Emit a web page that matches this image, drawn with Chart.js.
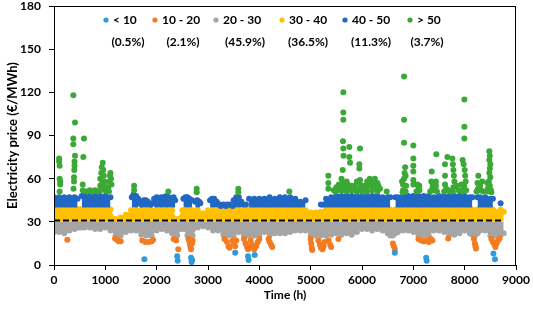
<!DOCTYPE html>
<html>
<head>
<meta charset="utf-8">
<script src="https://cdn.jsdelivr.net/npm/chart.js@4.4.1/dist/chart.umd.min.js"></script>
<style>
  html, body { margin: 0; padding: 0; background: #fff; }
  #wrap { position: relative; width: 533px; height: 314px; }
</style>
</head>
<body>
<div id="wrap"><canvas id="priceChart" width="533" height="314"></canvas></div>
<script>
// price classes and their share of the year
const categories = ['< 10', '10 - 20', '20 - 30', '30 - 40', '40 - 50', '> 50'];
const shares = [0.5, 2.1, 45.9, 36.5, 11.3, 3.7];
const colors = ['#2F9BDB', '#F47B20', '#A5A5A5', '#FFC000', '#2167C4', '#3AA935'];
const xTicks = [0, 1000, 2000, 3000, 4000, 5000, 6000, 7000, 8000, 9000];
const yTicks = [0, 30, 60, 90, 120, 150, 180];
const avgPrice = 31;

// dense bands: hour, lowest 20-30 price, highest 30-40 price, highest 40-50 price
const hours = [0, 100, 200, 300, 400, 460, 500, 540, 600, 700, 800, 900, 1000, 1100, 1200, 1300, 1400, 1500, 1600, 1700,
  1800, 1900, 2000, 2100, 2200, 2300, 2400, 2500, 2600, 2700, 2800, 2900, 3000, 3100, 3200, 3300, 3400, 3500, 3600, 3700,
  3750, 3800, 3900, 4000, 4100, 4200, 4300, 4400, 4500, 4600, 4700, 4800, 4900, 5000, 5100, 5200, 5300, 5400, 5500, 5600,
  5700, 5800, 5900, 6000, 6100, 6200, 6300, 6400, 6500, 6550, 6600, 6650, 6700, 6800, 6900, 7000, 7100, 7200, 7300, 7400,
  7500, 7600, 7700, 7800, 7900, 8000, 8100, 8150, 8200, 8250, 8300, 8400, 8500, 8550, 8600, 8700, 8760];
const grayLow = [23, 23, 22, 24, 25, 26, 26, 26, 26, 26, 25, 25, 26, 24, 20.5, 20.5, 23, 24, 24, 21,
  20.5, 20.5, 24, 25, 24, 22, 20.5, 25, 20.5, 20.5, 26, 27, 26, 24, 24, 21, 20.5, 20.5, 23, 20.5,
  20.5, 20.5, 20.5, 20.5, 23, 20.5, 22, 22, 22, 23, 24, 24, 24, 20.5, 20.5, 20.5, 20.5, 21, 22, 21,
  22, 21, 23, 25, 25, 24, 25, 24, 22, 20.5, 20.5, 22, 23, 24, 24, 23, 20.5, 20.5, 20.5, 24,
  24, 23, 21, 21, 22, 24, 22, 21, 20.5, 22, 24, 24, 20.5, 20.5, 20.5, 21, 22];
const yellowHigh = [38.5, 38.5, 38.5, 38.5, 38.5, 38.5, 39, 38.5, 38.5, 38.5, 38.5, 38.5, 38.5, 38.5, 32, 33, 35, 38, 38, 38,
  38, 38, 38, 38, 38, 38, 32, 38, 38, 38, 38, 36, 38, 38, 38, 38, 38, 38, 38, 38,
  36, 38.5, 38.5, 38.5, 38.5, 38.5, 38.5, 38.5, 38.5, 38.5, 38.5, 38.5, 38, 36.5, 36.5, 37, 38.5, 38.5, 38.5, 38.5,
  38.5, 38.5, 38.5, 38.5, 38.5, 38.5, 38.5, 38.5, 38.5, 38.5, 37, 38.5, 38.5, 38.5, 38.5, 38.5, 38.5, 38.5, 38.5, 38.5,
  38.5, 38.5, 38.5, 38.5, 38.5, 38.5, 38.5, 38.5, 37, 38.5, 38.5, 38.5, 38.5, 38.5, 37, 38.5, 37];
const blueHigh = [47, 47, 47, 47, 47, 46, null, 48, 48, 48, 48, 48, 48, 47, null, null, null, null, null, null,
  null, null, null, null, null, null, null, null, null, null, null, null, null, null, null, null, null, null, null, null,
  null, 46, 46, 46, 46, 47, 46, 47, 47, 47, 46, 44, 45, null, null, 42, 46, 47, 48, 48,
  48, 48, 48, 48, 48, 48, 48, 47, 47, 47, null, 47, 47, 48, 48, 48, 48, 48, 48, 47,
  48, 48, 48, 48, 48, 48, 47, 47, null, 47, 47, 47, 46, 46, null, 43, null];
// separate 40-50 clumps between 1500 h and 3750 h, null = white gap
const blueClumps = [[1515, 47], [1550, 49], [1600, 48], [1640, 46], [1655, null],
  [1670, 43], [1700, 42], [1730, 44], [1750, 45], [1790, 45], [1830, 44], [1840, null],
  [1850, 42], [1890, 42], [1920, 43], [1935, null],
  [1950, 46], [2000, 47], [2050, 46], [2090, 47], [2120, 46], [2140, 47], [2190, 48], [2240, 47], [2290, 46], [2330, 47],
  [2360, 45], [2440, null],
  [2520, 46], [2560, 47], [2600, 47], [2640, 46], [2690, 45], [2720, null],
  [2750, 44], [2790, 45], [2830, 44], [2850, 43], [2950, null],
  [3040, 45], [3080, 46], [3120, 46], [3170, 44], [3180, null],
  [3190, 42], [3230, 42], [3240, null],
  [3250, 41], [3300, 42], [3350, 41], [3360, null],
  [3370, 42], [3420, 42], [3480, 41], [3490, null],
  [3500, 45], [3550, 47], [3600, 47], [3650, 44], [3660, null],
  [3670, 42], [3740, 42]];

// sparse hours, [hour, price]
const under10 = [[1760, 4], [2400, 6], [2410, 3], [2670, 5], [2680, 2], [2690, 3.5], [3530, 8.5], [3780, 6], [3790, 3.5],
  [3910, 7], [6640, 8.5], [7250, 5], [7260, 3], [8560, 8], [8590, 4]];
const from10to20 = [[260, 17.5], [1190, 18.5], [1230, 17.5], [1260, 16.5], [1300, 16.5], [1720, 17], [1780, 16], [1850, 16],
  [1900, 16.5], [1930, 17.5], [2330, 18], [2380, 17], [2420, 11], [2620, 18], [2640, 16], [2650, 14], [2660, 12.5],
  [2670, 11], [2690, 15], [2700, 17], [3320, 18], [3370, 16], [3400, 13], [3420, 12], [3480, 17], [3500, 15], [3530, 13],
  [3550, 17], [3700, 18], [3730, 15], [3760, 12.5], [3780, 11], [3800, 13], [3830, 17], [3860, 14], [3880, 12], [3900, 11],
  [3940, 13], [3970, 16], [4000, 18], [4180, 18], [4200, 16], [4230, 14], [4250, 12.5], [5000, 18], [5010, 15], [5020, 12],
  [5030, 10.5], [5150, 17], [5180, 14], [5200, 12], [5230, 11], [5250, 13], [5270, 16], [5350, 17], [5380, 14], [5400, 12.5],
  [5540, 18], [6600, 15], [6620, 13], [6640, 11], [7100, 18], [7150, 17], [7200, 16.5], [7260, 17], [7300, 16], [7340, 18],
  [7370, 17], [7680, 18.5], [8180, 18], [8200, 15], [8210, 13], [8220, 11.5], [8520, 18], [8550, 16], [8580, 14], [8600, 12.5],
  [8620, 15], [8650, 17], [8680, 18.5]];
const over50 = [[100, 74], [100, 72], [110, 69], [110, 60], [120, 58], [120, 56], [110, 51],
  [376, 118], [409, 99], [376, 88], [376, 84], [409, 76], [400, 72], [400, 69], [395, 66], [390, 61], [390, 58], [380, 53],
  [584, 88], [571, 75], [559, 56], [560, 52], [650, 51], [700, 52], [750, 51], [800, 52], [850, 51],
  [900, 55], [900, 60], [920, 64], [930, 68], [950, 71], [960, 66], [970, 62], [980, 58], [990, 55], [1000, 52], [940, 57], [910, 52],
  [1060, 54], [1080, 58], [1090, 62], [1100, 64], [1110, 60], [1120, 56], [1070, 51],
  [1560, 55], [1560, 52], [2227, 51], [2780, 53], [2780, 50.5], [3590, 53], [3590, 50.5], [4584, 51],
  [5344, 62], [5344, 57], [5344, 53],
  [5636, 120], [5636, 106], [5636, 101], [5630, 86], [5636, 81], [5753, 82], [5640, 76], [5753, 75], [5767, 71], [5624, 66],
  [5961, 81], [5948, 70], [5948, 67], [5961, 59],
  [5450, 52], [5500, 54], [5550, 56], [5600, 60], [5620, 57], [5650, 55], [5700, 58], [5720, 56], [5750, 54], [5800, 52],
  [5850, 55], [5900, 58], [5950, 57], [6000, 54], [6050, 55], [6100, 58], [6150, 60], [6200, 59], [6250, 60], [6300, 57],
  [6350, 53], [6481, 51], [5600, 52], [5700, 51], [5900, 51], [6000, 51], [6100, 51], [6200, 52], [6300, 51],
  [5480, 51], [5520, 52], [5560, 53], [5580, 55], [5660, 52], [5680, 53], [5740, 52], [5780, 55], [5820, 53], [5880, 52],
  [5920, 53], [5980, 55], [6020, 52], [6080, 53], [6120, 55], [6180, 56], [6220, 54], [6260, 57], [6280, 53], [6320, 55],
  [6819, 131], [6819, 101], [6819, 85], [7000, 83], [7000, 74], [7000, 69], [7000, 65], [7000, 59], [7000, 56],
  [6800, 52], [6800, 56], [6820, 60], [6830, 64], [6840, 68], [6850, 62], [6860, 55], [6780, 58], [6790, 50.5], [6850, 51],
  [7117, 55], [7080, 56], [7120, 52], [7060, 51], [7100, 54], [7358, 65], [7448, 77], [7440, 58], [7440, 55], [7440, 52],
  [7350, 58], [7380, 55], [7400, 52], [7420, 54], [7330, 51], [7370, 53], [7460, 51],
  [7617, 70], [7663, 75], [7617, 62], [7617, 56], [7600, 51], [7640, 53], [7680, 52], [7720, 51],
  [7760, 74], [7770, 70], [7780, 66], [7790, 62], [7800, 58], [7780, 54], [7770, 51], [7850, 55], [7880, 52],
  [7994, 115], [7994, 96], [7994, 88], [7960, 73], [7980, 70], [8000, 66], [8010, 62], [8020, 58], [7990, 55], [8030, 52],
  [7950, 52], [7960, 51], [7940, 56],
  [8266, 62], [8250, 57], [8300, 55], [8340, 58], [8280, 52], [8360, 51], [8230, 51], [8260, 53], [8320, 52],
  [8480, 79], [8490, 76], [8480, 73], [8500, 70], [8490, 67], [8480, 64], [8500, 61], [8470, 58], [8490, 55], [8510, 52],
  [8450, 53], [8440, 57], [8440, 51], [8520, 50.5]];

const legendDotX = [106, 155, 216, 282, 345, 410];
const legendShareX = [128, 183, 245, 308, 371, 427];

function pairs(list) {
  return list.map(function(p) { return { x: p[0], y: p[1] }; });
}
function band(values) {
  return hours.map(function(h, i) { return { x: h, y: values[i] }; });
}

function pointSet(label, data, color, order) {
  return {
    label: label, data: data, order: order,
    showLine: false, borderWidth: 0,
    pointRadius: 3, pointBorderWidth: 0, pointBackgroundColor: color, borderColor: color
  };
}
function bandSet(label, data, color, floor, order) {
  return {
    label: label, data: data, order: order,
    borderWidth: 0, borderColor: color, backgroundColor: color,
    fill: { value: floor }, tension: 0, spanGaps: false,
    pointRadius: 3, pointBorderWidth: 0, pointBackgroundColor: color
  };
}

const frameAndLegend = {
  id: 'frameAndLegend',
  afterDraw(chart) {
    const ctx = chart.ctx;
    const a = chart.chartArea;
    ctx.save();
    ctx.strokeStyle = '#000';
    ctx.lineWidth = 1;
    ctx.strokeRect(a.left + 0.5, a.top + 0.5, a.right - a.left - 1, a.bottom - a.top);
    ctx.font = 'bold 12px Lato';
    ctx.textBaseline = 'middle';
    categories.forEach(function(name, i) {
      ctx.fillStyle = colors[i];
      ctx.beginPath();
      ctx.arc(legendDotX[i], 20, 2.6, 0, Math.PI * 2);
      ctx.fill();
      ctx.fillStyle = '#000';
      ctx.textAlign = 'left';
      ctx.fillText(name, legendDotX[i] + 7, 20);
      ctx.textAlign = 'center';
      ctx.fillText('(' + shares[i].toFixed(1) + '%)', legendShareX[i], 42);
    });
    ctx.restore();
  }
};

Chart.defaults.font.family = 'Lato';
Chart.defaults.color = '#000';

new Chart(document.getElementById('priceChart'), {
  type: 'line',
  data: {
    datasets: [
      pointSet(categories[0], pairs(under10), colors[0], 2),
      pointSet(categories[1], pairs(from10to20), colors[1], 3),
      bandSet(categories[2], band(grayLow), colors[2], 30, 7),
      bandSet(categories[3], band(yellowHigh), colors[3], 30, 6),
      bandSet(categories[4], band(blueHigh), colors[4], 40, 5),
      bandSet(categories[4], pairs(blueClumps), colors[4], 40, 5),
      pointSet(categories[5], pairs(over50), colors[5], 1),
      {
        label: 'average', data: [{ x: 0, y: avgPrice }, { x: 8760, y: avgPrice }], order: 0,
        borderColor: '#000', borderWidth: 2, borderDash: [6, 3], pointRadius: 0, fill: false
      }
    ]
  },
  options: {
    responsive: false,
    animation: false,
    layout: { padding: { top: 6, right: 17, left: 0, bottom: 0 } },
    plugins: { legend: { display: false }, tooltip: { enabled: false } },
    scales: {
      x: {
        type: 'linear', min: 0, max: 9000,
        afterBuildTicks: function(s) { s.ticks = xTicks.map(function(v) { return { value: v }; }); },
        afterFit: function(s) { s.height = 49; s.paddingLeft = 0; s.paddingRight = 0; },
        ticks: { font: { size: 12, weight: 'bold' }, padding: 3, maxRotation: 0, callback: function(v) { return String(v); } },
        grid: { drawOnChartArea: false, drawTicks: true, tickLength: 5, color: '#000' },
        border: { color: '#000', width: 1 },
        title: { display: true, text: 'Time (h)', font: { size: 12, weight: 'bold' }, padding: { top: 0, bottom: 12 } }
      },
      y: {
        min: 0, max: 180,
        afterBuildTicks: function(s) { s.ticks = yTicks.map(function(v) { return { value: v }; }); },
        afterFit: function(s) { s.width = 54; s.paddingTop = 0; s.paddingBottom = 0; },
        ticks: { font: { size: 12, weight: 'bold' }, padding: 8, callback: function(v) { return String(v); } },
        grid: { drawOnChartArea: false, drawTicks: true, tickLength: 5, color: '#000' },
        border: { color: '#000', width: 1 },
        title: { display: true, text: 'Electricity price (€/MWh)', font: { size: 13, weight: 'bold' }, padding: { top: 5, bottom: 0 } }
      }
    }
  },
  plugins: [frameAndLegend]
});
</script>
</body>
</html>
